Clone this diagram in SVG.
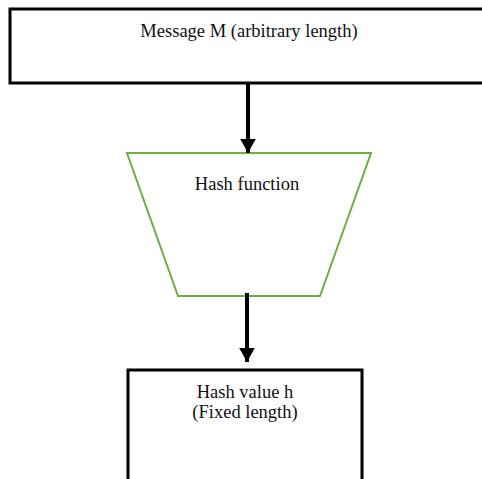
<svg xmlns="http://www.w3.org/2000/svg" width="482" height="479" viewBox="0 0 482 479">
<style>
.box{fill:#fff;stroke:#000;stroke-width:3}
.trap{fill:#fff;stroke:#70ad47;stroke-width:2}
.lbl{font-family:"Liberation Serif","Times New Roman",serif;font-size:18.5px;fill:#111;text-anchor:middle}
.conn{stroke:#000;stroke-width:4;fill:none}
</style>
<defs>
<marker id="ah" markerWidth="4" markerHeight="4" refX="3.6" refY="2" orient="auto" markerUnits="strokeWidth">
<path d="M0,0 L3.6,2 L0,4 Z" fill="#000"/>
</marker>
</defs>
<g id="message">
<rect class="box" x="10" y="9" width="480" height="74"/>
<text class="lbl" x="249" y="37">Message M (arbitrary length)</text>
</g>
<g id="hash-function">
<polygon class="trap" points="127,153 371,153 320,296 178,296"/>
<text class="lbl" x="247" y="190">Hash function</text>
</g>
<g id="hash-value">
<rect class="box" x="128" y="370" width="234" height="120"/>
<text class="lbl" x="245" y="398">Hash value h</text>
<text class="lbl" x="245" y="418">(Fixed length)</text>
</g>
<g id="connectors">
<line class="conn" x1="248" y1="84" x2="248" y2="153" marker-end="url(#ah)"/>
<line class="conn" x1="247" y1="293" x2="247" y2="362" marker-end="url(#ah)"/>
</g>
</svg>
